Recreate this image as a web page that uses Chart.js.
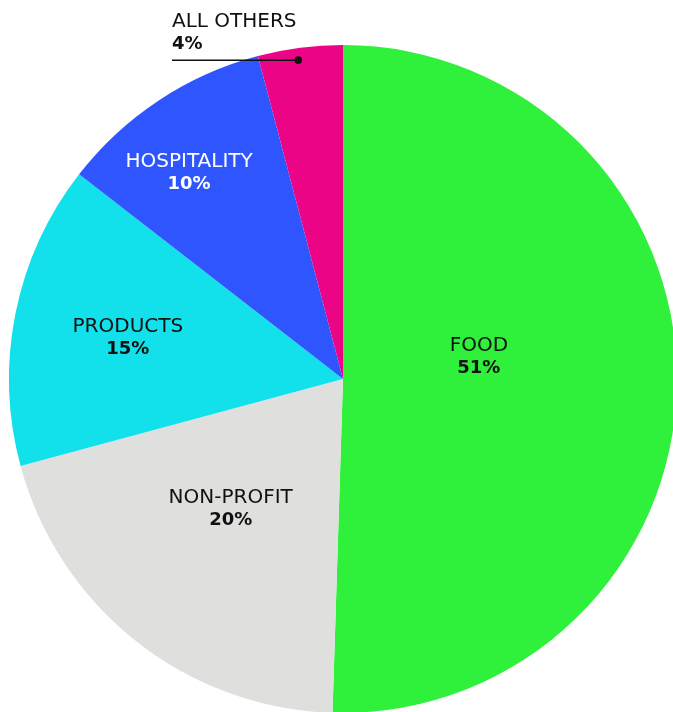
<!DOCTYPE html>
<html>
<head>
<meta charset="utf-8">
<script src="https://cdn.jsdelivr.net/npm/chart.js@4.4.1/dist/chart.umd.min.js"></script>
<style>
  html, body { margin: 0; padding: 0; background: #fff; overflow: hidden; width: 673px; height: 712px; }
  #wrap { position: absolute; left: 0; top: 0; width: 686px; height: 758px; }
</style>
</head>
<body>
<div id="wrap"><canvas id="pie"></canvas></div>
<script>
// Data
const categories = ['FOOD', 'NON-PROFIT', 'PRODUCTS', 'HOSPITALITY', 'ALL OTHERS'];
const shares = [50.5, 20.3, 14.7, 10.4, 4.1];        // slice sizes
const shareLabels = ['51%', '20%', '15%', '10%', '4%']; // printed values
const sliceColors = ['#2ff03b', '#dfe0de', '#12e1eb', '#2f56fe', '#eb0586'];
const textColors = ['#111', '#111', '#111', '#fff', '#111'];
// label placement: fraction of radius, angle nudge in degrees
const labelRadius = [0.413, 0.51, 0.657, 0.775, 0.964];
const labelNudge = [-10.9, 2.9, 0, -3, -0.6];

const FONT = '"DejaVu Sans", sans-serif';

// Labels drawn on top of the slices
const sliceLabels = {
  id: 'sliceLabels',
  afterDatasetsDraw(chart) {
    const ctx = chart.ctx;
    const meta = chart.getDatasetMeta(0);
    meta.data.forEach((arc, i) => {
      const mid = (arc.startAngle + arc.endAngle) / 2 + labelNudge[i] * Math.PI / 180;
      const r = arc.outerRadius * labelRadius[i];
      const x = arc.x + Math.cos(mid) * r;
      const y = arc.y + Math.sin(mid) * r;
      const name = chart.data.labels[i];
      const pct = shareLabels[i];
      ctx.save();
      ctx.fillStyle = textColors[i];
      ctx.textBaseline = 'alphabetic';
      if (i === categories.length - 1) {
        // leader line out to the left, text above it
        const left = 172;
        ctx.strokeStyle = '#111';
        ctx.lineWidth = 1.5;
        ctx.beginPath();
        ctx.moveTo(left, y);
        ctx.lineTo(x, y);
        ctx.stroke();
        ctx.beginPath();
        ctx.arc(x, y, 3.8, 0, Math.PI * 2);
        ctx.fill();
        ctx.textAlign = 'left';
        ctx.font = '20px ' + FONT;
        ctx.fillText(name, left, y - 33);
        ctx.font = 'bold 18px ' + FONT;
        ctx.fillText(pct, left, y - 11);
      } else {
        ctx.textAlign = 'center';
        ctx.font = '20px ' + FONT;
        ctx.fillText(name, x, y - 4);
        ctx.font = 'bold 18px ' + FONT;
        ctx.fillText(pct, x, y + 18);
      }
      ctx.restore();
    });
  }
};

const pieCtx = document.getElementById('pie').getContext('2d');
const pieChart = new Chart(pieCtx, {
  type: 'pie',
  data: {
    labels: categories,
    datasets: [{
      data: shares,
      backgroundColor: sliceColors,
      borderWidth: 0
    }]
  },
  options: {
    responsive: true,
    maintainAspectRatio: false,
    animation: false,
    layout: { padding: { left: 9, right: 9, top: 45, bottom: 45 } },
    plugins: {
      legend: { display: false },
      tooltip: { enabled: false }
    }
  },
  plugins: [sliceLabels]
});
</script>
</body>
</html>
